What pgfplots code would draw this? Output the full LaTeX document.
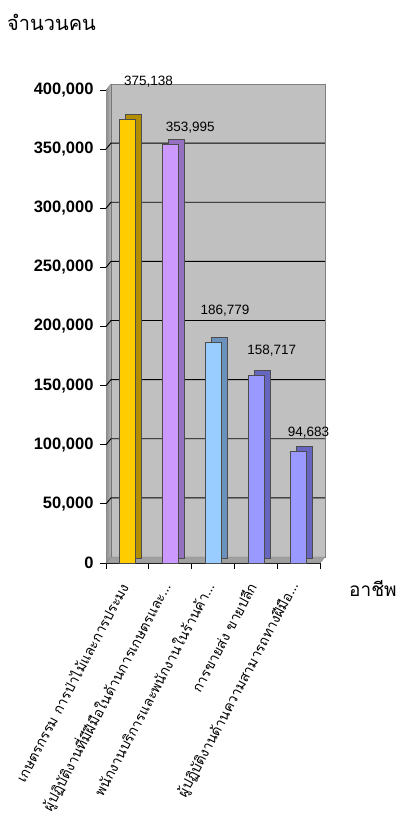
\documentclass[border=0pt]{standalone}
\usepackage{fontspec}
\setmainfont{Liberation Sans}
\newfontfamily\thaifont[Script=Thai]{Loma}
\usepackage{pgfplots}
\pgfplotsset{compat=1.18}
\definecolor{wall}{HTML}{C0C0C0}
\definecolor{wallL}{HTML}{8C8C8C}
\definecolor{floorc}{HTML}{A0A0A0}
\definecolor{yel}{HTML}{FFCC00}
\definecolor{yelD}{HTML}{B38F00}
\definecolor{pur}{HTML}{CC99FF}
\definecolor{purD}{HTML}{9470C0}
\definecolor{lbl}{HTML}{99CCFF}
\definecolor{lblD}{HTML}{6A92BD}
\definecolor{per}{HTML}{9999FF}
\definecolor{perD}{HTML}{6666C0}
\begin{document}
\begin{tikzpicture}[x=1pt,y=1pt]
\path[use as bounding box] (0,0) rectangle (400,819);
\node[anchor=west,inner sep=0pt,font=\thaifont\fontsize{20}{24}\selectfont] at (7,797) {จำนวนคน};
\node[anchor=west,inner sep=0pt,font=\thaifont\fontsize{19}{22}\selectfont] at (349,231) {อาชีพ};
\begin{axis}[
  at={(106pt,256pt)}, anchor=south west, scale only axis,
  width=214pt, height=473pt,
  xmin=-0.5, xmax=4.5, ymin=0, ymax=400000,
  clip=false,
  axis x line*=bottom, axis y line*=left,
  axis line style={black, line width=1pt},
  ytick={0,50000,...,400000}, scaled y ticks=false,
  yticklabel style={font=\fontsize{16.5}{18}\bfseries\selectfont, xshift=-3pt, /pgf/number format/.cd, fixed, 1000 sep={,}, assume math mode=true},
  xtick={-0.5,0.5,1.5,2.5,3.5,4.5}, xticklabels={,,,,,},
  tick align=outside, major tick length=6pt,
  tick style={black, line width=0.8pt},
  extra x ticks={0,1,2,3,4},
  extra x tick labels={เกษตรกรรม การป่าไม้และการประมง, ผู้ปฏิบัติงานที่มีฝีมือในด้านการเกษตรและ…, พนักงานบริการและพนักงานในร้านค้า…, การขายส่ง ขายปลีก, ผู้ปฏิบัติงานด้านความสามารถทางฝีมือ…},
  extra x tick style={major tick length=0pt, tick label style={yshift=-18pt, xshift=-2pt, rotate=62, anchor=east, font=\thaifont\fontsize{14}{16}\selectfont}},
]
% back wall
\fill[wall, draw=gray] ([shift={(5pt,6pt)}]axis cs:-0.5,0) rectangle ([shift={(5pt,6pt)}]axis cs:4.5,400000);
% left wall
\fill[left color=wallL, right color=wall!80!wallL] (axis cs:-0.5,0) -- (axis cs:-0.5,400000) -- ([shift={(5pt,6pt)}]axis cs:-0.5,400000) -- ([shift={(5pt,6pt)}]axis cs:-0.5,0) -- cycle;
% floor
\fill[floorc, draw=gray] (axis cs:-0.5,0) -- (axis cs:4.5,0) -- ([shift={(5pt,6pt)}]axis cs:4.5,0) -- ([shift={(5pt,6pt)}]axis cs:-0.5,0) -- cycle;
% gridlines
\pgfplotsinvokeforeach{50000,100000,150000,200000,250000,300000,350000}{
  \draw[black, line width=0.9pt] (axis cs:-0.5,#1) -- ([shift={(5pt,6pt)}]axis cs:-0.5,#1) -- ([shift={(5pt,6pt)}]axis cs:4.5,#1);
}
% bars: back (side/top) copies and front faces
\addplot[ybar, bar shift=0pt, bar width=16pt, fill=yelD, draw=black!70, line width=0.4pt, xshift=6pt, yshift=5pt] coordinates {(0,375138)};
\addplot[ybar, bar shift=0pt, bar width=16pt, fill=yel, draw=black!70, line width=0.4pt] coordinates {(0,375138)};
\addplot[ybar, bar shift=0pt, bar width=16pt, fill=purD, draw=black!70, line width=0.4pt, xshift=6pt, yshift=5pt] coordinates {(1,353995)};
\addplot[ybar, bar shift=0pt, bar width=16pt, fill=pur, draw=black!70, line width=0.4pt] coordinates {(1,353995)};
\addplot[ybar, bar shift=0pt, bar width=16pt, fill=lblD, draw=black!70, line width=0.4pt, xshift=6pt, yshift=5pt] coordinates {(2,186779)};
\addplot[ybar, bar shift=0pt, bar width=16pt, fill=lbl, draw=black!70, line width=0.4pt] coordinates {(2,186779)};
\addplot[ybar, bar shift=0pt, bar width=16pt, fill=perD, draw=black!70, line width=0.4pt, xshift=6pt, yshift=5pt] coordinates {(3,158717)};
\addplot[ybar, bar shift=0pt, bar width=16pt, fill=per, draw=black!70, line width=0.4pt] coordinates {(3,158717)};
\addplot[ybar, bar shift=0pt, bar width=16pt, fill=perD, draw=black!70, line width=0.4pt, xshift=6pt, yshift=5pt] coordinates {(4,94683)};
\addplot[ybar, bar shift=0pt, bar width=16pt, fill=per, draw=black!70, line width=0.4pt] coordinates {(4,94683)};
% data labels
\node[font=\fontsize{13.5}{15}\selectfont, inner sep=0pt] at ([shift={(21pt,38pt)}]axis cs:0,375138) {375,138};
\node[font=\fontsize{13.5}{15}\selectfont, inner sep=0pt] at ([shift={(20pt,17pt)}]axis cs:1,353995) {353,995};
\node[font=\fontsize{13.5}{15}\selectfont, inner sep=0pt] at ([shift={(12pt,31pt)}]axis cs:2,186779) {186,779};
\node[font=\fontsize{13.5}{15}\selectfont, inner sep=0pt] at ([shift={(16pt,25pt)}]axis cs:3,158717) {158,717};
\node[font=\fontsize{13.5}{15}\selectfont, inner sep=0pt] at ([shift={(10pt,18pt)}]axis cs:4,94683) {94,683};
\end{axis}
\end{tikzpicture}
\end{document}
